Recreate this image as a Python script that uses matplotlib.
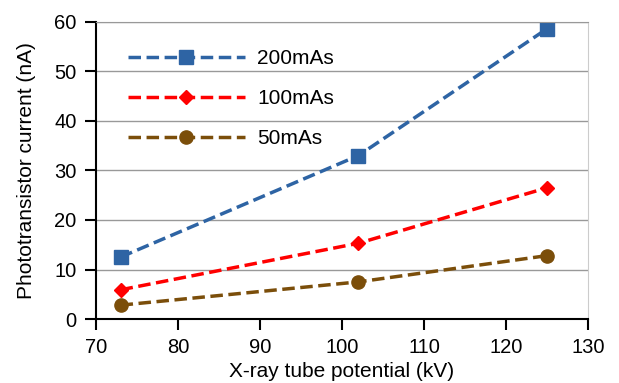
import matplotlib
matplotlib.use("Agg")
import matplotlib.pyplot as plt

plt.rcParams['font.family'] = ['Liberation Sans', 'DejaVu Sans']

kv = [73, 102, 125]
mas200 = [12.5, 33.0, 58.6]
mas100 = [5.9, 15.3, 26.5]
mas50 = [2.8, 7.5, 12.8]

fig = plt.figure(figsize=(6.19, 3.83), dpi=100)
ax = fig.add_axes([0.155, 0.167, 0.795, 0.776])

dash = (3.6, 1.6)
ax.plot(kv, mas200, '--', dashes=dash, color='#2E64A4', lw=2.5, marker='s', ms=9.5, label='200mAs')
ax.plot(kv, mas100, '--', dashes=dash, color='#FF0000', lw=2.5, marker='D', ms=7, label='100mAs')
ax.plot(kv, mas50, '--', dashes=dash, color='#7B4E0A', lw=2.5, marker='o', ms=9.5, label='50mAs')

ax.set_xlim(70, 130)
ax.set_ylim(0, 60)
ax.set_xticks(range(70, 131, 10))
ax.set_yticks(range(0, 61, 10))
ax.yaxis.grid(True, color='#999999', lw=1)
ax.set_axisbelow(True)
ax.tick_params(direction='out', length=8, width=1.5, labelsize=14.5, color='black', pad=6)
for s in ['left', 'bottom']:
    ax.spines[s].set_linewidth(1.5)
ax.spines['top'].set_color('#999999')
ax.spines['right'].set_color('#cccccc')

ax.set_xlabel('X-ray tube potential (kV)', fontsize=15, labelpad=3)
ax.set_ylabel('Phototransistor current (nA)', fontsize=15, labelpad=13)

ax.legend(loc='upper left', frameon=False, fontsize=15, handlelength=5.6,
          labelspacing=1.0, handletextpad=0.6, borderaxespad=0,
          bbox_to_anchor=(0.048, 0.935))

fig.savefig('out.png', dpi=100)
